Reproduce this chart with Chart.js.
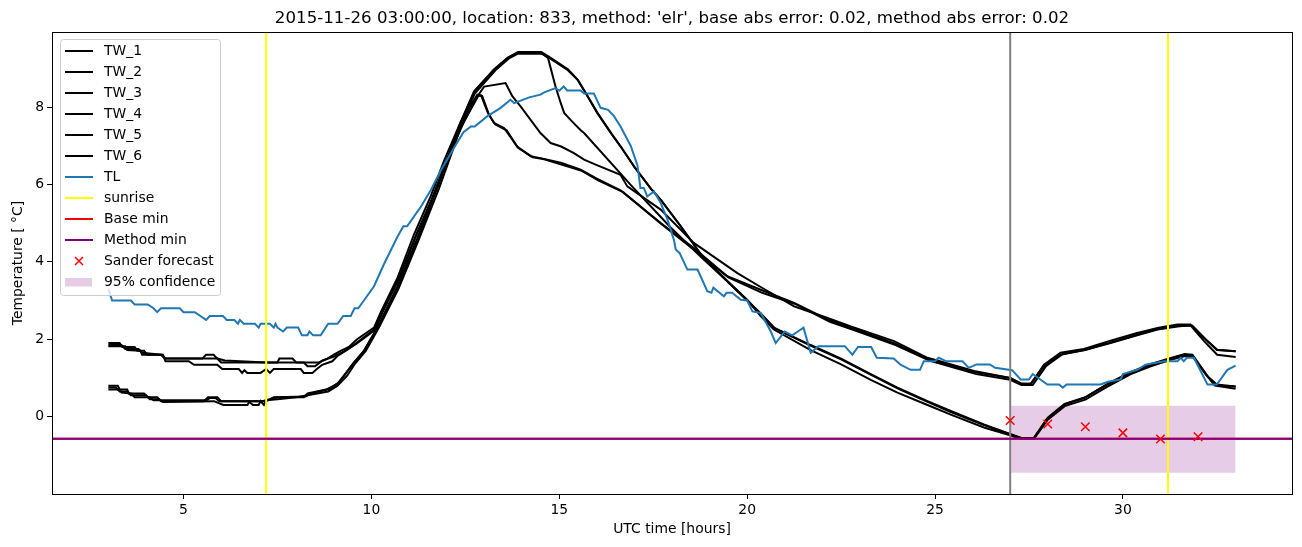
<!DOCTYPE html>
<html>
<head>
<meta charset="utf-8">
<script src="https://cdn.jsdelivr.net/npm/chart.js@4.4.1/dist/chart.umd.min.js"></script>
<style>
  html, body { margin: 0; padding: 0; background: #fff; }
</style>
</head>
<body>
<canvas id="grafico" width="1302" height="547"></canvas>
<script>
// --- datos (hora UTC, temperatura) ---
const TW_1 = [[3.0,1.9],[3.3,1.9],[3.37,1.8],[3.7,1.8],[3.77,1.7],[3.95,1.7],[4.03,1.6],[4.43,1.6],[4.52,1.5],[5.9,1.5],[6.0,1.4],[7.5,1.4],[7.55,1.5],[7.9,1.5],[8.0,1.4],[8.6,1.4],[8.83,1.5],[9.0,1.6],[9.18,1.7],[9.4,1.8],[9.62,2.0],[10.07,2.3],[10.25,2.7],[10.7,3.6],[11.13,4.7],[11.58,5.7],[11.93,6.6],[12.37,7.6],[12.82,8.32],[12.92,8.3],[13.1,7.85],[13.26,7.59],[13.53,7.46],[13.88,6.98],[14.24,6.73],[14.5,6.68],[15.04,6.56],[15.57,6.38],[16.0,6.15],[16.63,5.85],[17.7,5.0],[18.58,4.36],[19.47,3.63],[20.36,3.28],[21.25,2.94],[22.14,2.51],[22.76,2.3],[23.91,1.9],[24.8,1.5],[26.04,1.15],[27.0,1.0],[27.28,0.85],[27.55,0.85],[27.9,1.34],[28.34,1.65],[28.96,1.75],[29.67,1.96],[30.38,2.16],[30.92,2.29],[31.45,2.38],[31.8,2.38],[32.16,2.03],[32.51,1.73],[33.0,1.69]];
const TW_2 = [[3.0,1.85],[3.35,1.85],[3.45,1.75],[3.8,1.75],[3.9,1.65],[4.4,1.6],[4.5,1.5],[5.5,1.5],[5.6,1.6],[5.8,1.6],[5.9,1.5],[6.1,1.45],[7.2,1.4],[8.2,1.4],[8.3,1.3],[8.5,1.3],[8.7,1.45],[9.0,1.55],[9.3,1.7],[9.6,1.9],[10.07,2.25],[10.3,2.75],[10.75,3.6],[11.2,4.7],[11.65,5.7],[12.0,6.6],[12.45,7.6],[12.85,8.3],[12.95,8.28],[13.13,7.8],[13.3,7.55],[13.6,7.4],[13.9,6.95],[14.3,6.7],[14.6,6.65],[15.1,6.5],[15.6,6.35],[16.05,6.1],[16.7,5.8],[17.75,4.95],[18.6,4.3],[19.5,3.6],[20.4,3.2],[21.3,2.9],[22.2,2.45],[22.8,2.25],[23.95,1.85],[24.85,1.45],[26.1,1.1],[27.0,0.95],[27.3,0.82],[27.6,0.82],[27.95,1.3],[28.4,1.62],[29.0,1.72],[29.7,1.92],[30.4,2.12],[30.95,2.27],[31.5,2.35],[31.85,2.35],[32.2,2.0],[32.5,1.72],[33.0,1.69]];
const TW_3 = [[3.0,1.82],[3.45,1.82],[3.5,1.72],[3.85,1.7],[3.9,1.6],[4.45,1.6],[4.52,1.43],[5.14,1.43],[5.28,1.34],[5.9,1.34],[6.03,1.23],[6.47,1.23],[6.56,1.13],[6.62,1.2],[6.7,1.13],[7.05,1.13],[7.2,1.23],[7.3,1.13],[7.4,1.23],[8.12,1.23],[8.2,1.13],[8.43,1.13],[8.55,1.23],[8.69,1.34],[8.96,1.43],[9.09,1.56],[9.36,1.73],[9.62,1.9],[9.9,2.1],[10.1,2.25],[10.3,2.7],[10.72,3.55],[11.15,4.6],[11.6,5.6],[11.95,6.5],[12.4,7.5],[12.8,8.25],[13.0,8.53],[13.57,8.62],[13.75,8.28],[13.97,8.02],[14.5,7.33],[14.77,7.07],[15.05,6.98],[15.39,6.81],[15.66,6.64],[16.0,6.5],[16.63,6.25],[16.81,5.95],[17.7,5.35],[18.58,4.49],[19.74,3.71],[20.36,3.35],[21.25,2.85],[22.14,2.55],[22.76,2.33],[23.91,1.95],[24.8,1.52],[26.04,1.18],[27.0,1.0],[27.3,0.85],[27.55,0.85],[27.9,1.3],[28.34,1.6],[28.96,1.72],[29.67,1.9],[30.38,2.1],[30.92,2.25],[31.45,2.33],[31.8,2.36],[32.16,1.95],[32.51,1.6],[33.0,1.54]];
const TW_4 = [[3.0,0.8],[3.25,0.8],[3.3,0.7],[3.5,0.7],[3.55,0.6],[3.95,0.6],[4.05,0.5],[4.3,0.5],[4.4,0.4],[5.55,0.4],[5.65,0.5],[5.9,0.5],[6.0,0.4],[7.2,0.4],[7.4,0.5],[8.2,0.5],[8.3,0.6],[8.8,0.7],[9.1,0.85],[9.3,1.1],[9.5,1.35],[9.8,1.7],[10.16,2.3],[10.69,3.35],[11.22,4.6],[11.76,5.95],[12.11,6.9],[12.37,7.6],[12.73,8.4],[13.26,8.97],[13.62,9.27],[13.88,9.4],[14.5,9.4],[14.68,9.3],[15.21,8.97],[15.48,8.71],[15.75,8.28],[16.01,7.85],[16.37,7.33],[16.63,6.98],[16.99,6.47],[17.43,5.9],[17.7,5.6],[18.23,4.92],[18.76,4.2],[19.47,3.5],[20.0,3.0],[20.36,2.65],[20.71,2.3],[21.69,1.85],[22.5,1.5],[23.29,1.1],[24.0,0.75],[24.8,0.4],[25.42,0.15],[26.3,-0.2],[26.57,-0.3],[27.0,-0.45],[27.3,-0.55],[27.63,-0.55],[27.99,-0.05],[28.43,0.31],[28.96,0.48],[29.59,0.83],[30.21,1.13],[30.74,1.34],[31.27,1.5],[31.63,1.6],[31.85,1.58],[32.25,1.04],[32.5,0.83],[33.0,0.78]];
const TW_5 = [[3.0,0.75],[3.2,0.75],[3.3,0.65],[3.5,0.65],[3.6,0.55],[4.0,0.55],[4.1,0.45],[4.35,0.45],[4.45,0.38],[5.81,0.4],[6.06,0.3],[6.7,0.3],[6.75,0.38],[6.85,0.3],[7.0,0.3],[7.05,0.4],[7.14,0.3],[7.2,0.42],[7.5,0.45],[8.0,0.5],[8.3,0.55],[8.85,0.65],[9.1,0.8],[9.35,1.05],[9.55,1.35],[9.85,1.7],[10.2,2.3],[10.72,3.3],[11.25,4.55],[11.8,5.9],[12.15,6.85],[12.4,7.55],[12.75,8.35],[13.3,8.95],[13.65,9.25],[13.9,9.38],[14.55,9.38],[14.7,9.27],[14.9,8.53],[15.04,8.1],[15.13,7.85],[15.3,7.67],[15.57,7.4],[15.66,7.33],[16.9,5.99],[17.97,4.88],[18.76,4.14],[20.0,3.02],[20.36,2.6],[20.71,2.25],[21.69,1.72],[22.5,1.35],[23.29,0.95],[24.0,0.62],[24.8,0.3],[25.42,0.05],[26.3,-0.28],[26.57,-0.36],[27.0,-0.48],[27.3,-0.58],[27.63,-0.58],[28.0,-0.08],[28.45,0.27],[29.0,0.44],[29.6,0.78],[30.21,1.1],[30.74,1.3],[31.27,1.47],[31.63,1.56],[31.85,1.56],[32.2,1.1],[32.45,0.8],[33.0,0.72]];
const TW_6 = [[3.0,0.7],[3.3,0.7],[3.35,0.62],[3.6,0.6],[3.7,0.5],[4.1,0.5],[4.2,0.42],[5.6,0.42],[5.7,0.48],[5.85,0.48],[5.95,0.4],[7.1,0.4],[7.3,0.45],[7.5,0.5],[8.25,0.52],[8.4,0.6],[8.9,0.72],[9.15,0.9],[9.32,1.12],[9.52,1.38],[9.82,1.72],[10.18,2.32],[10.7,3.38],[11.24,4.62],[11.78,5.98],[12.13,6.92],[12.4,7.65],[12.75,8.42],[13.28,8.98],[13.64,9.28],[13.9,9.42],[14.52,9.42],[14.7,9.32],[15.23,8.98],[15.5,8.7],[15.77,8.26],[16.03,7.83],[16.4,7.3],[16.65,6.96],[17.0,6.45],[17.45,5.88],[17.72,5.58],[18.25,4.9],[18.78,4.18],[19.5,3.48],[20.03,2.98],[20.4,2.63],[20.74,2.28],[21.7,1.83],[22.5,1.48],[23.3,1.08],[24.0,0.73],[24.8,0.38],[25.42,0.12],[26.3,-0.22],[26.6,-0.32],[27.0,-0.46],[27.3,-0.56],[27.63,-0.56],[28.0,-0.03],[28.45,0.33],[29.0,0.5],[29.6,0.85],[30.2,1.15],[30.75,1.36],[31.3,1.52],[31.65,1.62],[31.85,1.6],[32.27,1.02],[32.52,0.8],[33.0,0.78]];
const TL = [[3.0,3.3],[3.1,3.0],[3.6,3.0],[3.7,2.9],[4.05,2.9],[4.2,2.8],[4.3,2.7],[4.4,2.8],[4.9,2.8],[5.0,2.7],[5.3,2.7],[5.45,2.6],[5.6,2.5],[5.7,2.6],[6.05,2.6],[6.15,2.5],[6.35,2.5],[6.45,2.4],[6.5,2.5],[6.6,2.4],[6.9,2.4],[7.0,2.3],[7.05,2.4],[7.3,2.4],[7.4,2.3],[7.45,2.4],[7.5,2.3],[7.65,2.2],[7.75,2.3],[8.05,2.3],[8.15,2.1],[8.3,2.1],[8.35,2.2],[8.45,2.1],[8.65,2.1],[8.85,2.4],[9.1,2.4],[9.25,2.6],[9.45,2.6],[9.55,2.8],[9.65,2.8],[9.8,3.0],[10.07,3.37],[10.33,3.93],[10.69,4.64],[10.85,4.92],[10.95,4.92],[11.3,5.4],[11.58,5.85],[11.84,6.35],[12.2,6.95],[12.45,7.35],[12.65,7.5],[12.75,7.5],[13.08,7.76],[13.44,7.98],[13.7,8.19],[13.8,8.1],[14.06,8.2],[14.2,8.25],[14.5,8.32],[14.6,8.38],[14.9,8.49],[15.0,8.42],[15.12,8.53],[15.21,8.43],[15.57,8.43],[15.66,8.35],[15.92,8.35],[16.1,7.98],[16.3,7.93],[16.46,7.76],[16.63,7.5],[16.9,7.0],[17.08,6.5],[17.16,5.91],[17.25,5.91],[17.34,5.69],[17.52,5.82],[17.7,5.52],[17.88,5.09],[18.05,4.57],[18.1,4.32],[18.2,4.23],[18.41,3.8],[18.68,3.8],[18.94,3.24],[19.05,3.2],[19.1,3.33],[19.38,3.11],[19.45,3.2],[19.6,3.2],[19.83,3.02],[20.0,3.0],[20.14,2.72],[20.36,2.68],[20.63,2.2],[20.76,1.9],[21.0,2.2],[21.2,2.1],[21.35,2.2],[21.5,2.3],[21.69,1.65],[21.9,1.82],[22.6,1.82],[22.8,1.6],[22.95,1.8],[23.3,1.8],[23.45,1.52],[23.9,1.5],[24.08,1.34],[24.35,1.21],[24.6,1.21],[24.7,1.43],[25.0,1.43],[25.1,1.52],[25.3,1.43],[25.73,1.43],[25.9,1.26],[26.1,1.35],[26.46,1.35],[26.6,1.26],[27.05,1.2],[27.28,0.96],[27.5,0.96],[27.6,1.1],[27.99,0.83],[28.3,0.83],[28.4,0.75],[28.5,0.83],[29.41,0.83],[29.6,0.9],[29.94,0.96],[30.0,1.1],[30.38,1.21],[30.6,1.34],[31.1,1.43],[31.45,1.43],[31.54,1.52],[31.62,1.43],[31.7,1.52],[31.89,1.52],[32.25,0.83],[32.5,0.83],[32.78,1.21],[33.0,1.32]];

const sunriseHours = [7.2, 31.2];
const forecastStart = 27.0;
const baseMin = -0.57;
const methodMin = -0.57;
const sanderHours = [27, 28, 29, 30, 31, 32];
const sanderTemps = [-0.10, -0.19, -0.26, -0.42, -0.58, -0.52];
const confHours = [27, 33];
const confUpper = [0.28, 0.28];
const confLower = [-1.45, -1.45];

const xLimits = [1.5, 34.5];
const yLimits = [-2.0, 9.94];
const xTicks = [5, 10, 15, 20, 25, 30];
const yTicks = [0, 2, 4, 6, 8];

const tituloTexto = "2015-11-26 03:00:00, location: 833, method: 'elr', base abs error: 0.02, method abs error: 0.02";
const legendLabels = ['TW_1', 'TW_2', 'TW_3', 'TW_4', 'TW_5', 'TW_6', 'TL', 'sunrise', 'Base min', 'Method min', 'Sander forecast', '95% confidence'];

// --- estilos ---
const FUENTE = '"DejaVu Sans", sans-serif';
const colores = {
    tw: '#000000', tl: '#1f77b4', sunrise: '#ffff00', base: '#ff0000',
    method: '#800080', ahora: '#808080', sander: '#ff0000', conf: 'rgba(128,0,128,0.2)'
};
const legendStyle = [
    ['line', colores.tw], ['line', colores.tw], ['line', colores.tw], ['line', colores.tw],
    ['line', colores.tw], ['line', colores.tw], ['line', colores.tl], ['line', colores.sunrise],
    ['line', colores.base], ['line', colores.method], ['marker', colores.sander], ['patch', colores.conf]
];

const pts = arr => arr.map(p => ({ x: p[0], y: p[1] }));
const linea = (data, color, order) => ({
    data: data, borderColor: color, borderWidth: 2, pointRadius: 0,
    fill: false, tension: 0, order: order
});

const datasets = [];
[TW_1, TW_2, TW_3, TW_4, TW_5, TW_6].forEach(s => datasets.push(linea(pts(s), colores.tw, 8)));
datasets.push(linea(pts(TL), colores.tl, 7));
sunriseHours.forEach(h => datasets.push(linea([{ x: h, y: yLimits[0] }, { x: h, y: yLimits[1] }], colores.sunrise, 6)));
datasets.push(linea([{ x: forecastStart, y: yLimits[0] }, { x: forecastStart, y: yLimits[1] }], colores.ahora, 6));
datasets.push(linea([{ x: xLimits[0], y: baseMin }, { x: xLimits[1], y: baseMin }], colores.base, 5));
datasets.push(linea([{ x: xLimits[0], y: methodMin }, { x: xLimits[1], y: methodMin }], colores.method, 4));
datasets.push({
    data: sanderHours.map((h, i) => ({ x: h, y: sanderTemps[i] })),
    showLine: false, pointStyle: 'crossRot', pointRadius: 6, pointBorderWidth: 1.5,
    borderColor: colores.sander, backgroundColor: colores.sander, order: 1
});
// banda de confianza: superior rellena hasta la inferior (+1)
datasets.push({
    data: confHours.map((h, i) => ({ x: h, y: confUpper[i] })),
    borderWidth: 0, pointRadius: 0, fill: '+1', backgroundColor: colores.conf, order: 10
});
datasets.push({
    data: confHours.map((h, i) => ({ x: h, y: confLower[i] })),
    borderWidth: 0, pointRadius: 0, fill: false, order: 10
});

// marco completo del eje + leyenda al estilo matplotlib
const marcoYLeyenda = {
    id: 'marcoYLeyenda',
    afterDraw(chart) {
        const { ctx, chartArea: a } = chart;
        ctx.save();
        ctx.strokeStyle = '#000';
        ctx.lineWidth = 1;
        ctx.strokeRect(Math.round(a.left) + 0.5, Math.round(a.top) + 0.5,
            Math.round(a.right - a.left), Math.round(a.bottom - a.top));

        // leyenda
        const lx = 60, ly = 39.5, lw = 160, lh = 256, paso = 21;
        ctx.beginPath();
        ctx.roundRect(lx + 0.5, ly, lw, lh, 3);
        ctx.fillStyle = 'rgba(255,255,255,0.8)';
        ctx.fill();
        ctx.strokeStyle = '#cccccc';
        ctx.stroke();

        ctx.font = '13.9px ' + FUENTE;
        ctx.textBaseline = 'middle';
        ctx.textAlign = 'left';
        legendLabels.forEach((lab, i) => {
            const y = 51 + i * paso;
            const [tipo, col] = legendStyle[i];
            if (tipo === 'line') {
                ctx.strokeStyle = col; ctx.lineWidth = 2;
                ctx.beginPath(); ctx.moveTo(65, y); ctx.lineTo(93, y); ctx.stroke();
            } else if (tipo === 'marker') {
                ctx.strokeStyle = col; ctx.lineWidth = 1.5;
                ctx.beginPath();
                ctx.moveTo(75, y - 4); ctx.lineTo(83, y + 4);
                ctx.moveTo(75, y + 4); ctx.lineTo(83, y - 4);
                ctx.stroke();
            } else {
                ctx.fillStyle = col;
                ctx.fillRect(65, y - 4, 27, 8.5);
            }
            ctx.fillStyle = '#000';
            ctx.fillText(lab, 104, y);
        });
        ctx.restore();
    }
};

const fuenteTick = { family: FUENTE, size: 13.9 };

new Chart(document.getElementById('grafico').getContext('2d'), {
    type: 'line',
    data: { datasets: datasets },
    options: {
        responsive: false,
        animation: false,
        events: [],
        layout: { padding: { left: 0, right: 10, top: 0, bottom: 0 } },
        scales: {
            x: {
                type: 'linear', min: xLimits[0], max: xLimits[1],
                afterFit: s => { s.height = 53; },
                afterBuildTicks: s => { s.ticks = xTicks.map(v => ({ value: v })); },
                grid: { drawOnChartArea: false, tickLength: 5, tickColor: '#000', tickWidth: 1 },
                border: { display: false },
                ticks: { color: '#000', font: fuenteTick, padding: 3, maxRotation: 0 },
                title: { display: true, text: 'UTC time [hours]', color: '#000', font: fuenteTick, padding: { top: 0, bottom: 9 } }
            },
            y: {
                type: 'linear', min: yLimits[0], max: yLimits[1],
                afterFit: s => { s.width = 52; },
                afterBuildTicks: s => { s.ticks = yTicks.map(v => ({ value: v })); },
                grid: { drawOnChartArea: false, tickLength: 5, tickColor: '#000', tickWidth: 1 },
                border: { display: false },
                ticks: { color: '#000', font: fuenteTick, padding: 3 },
                title: { display: true, text: 'Temperature [ °C]', color: '#000', font: fuenteTick, padding: { top: 10, bottom: 0 } }
            }
        },
        plugins: {
            legend: { display: false },
            tooltip: { enabled: false },
            title: {
                display: true, text: tituloTexto, fullSize: false, color: '#000',
                font: { family: FUENTE, size: 16.67, weight: 'normal' },
                padding: { top: 9, bottom: 3 }
            }
        }
    },
    plugins: [marcoYLeyenda]
});
</script>
</body>
</html>
